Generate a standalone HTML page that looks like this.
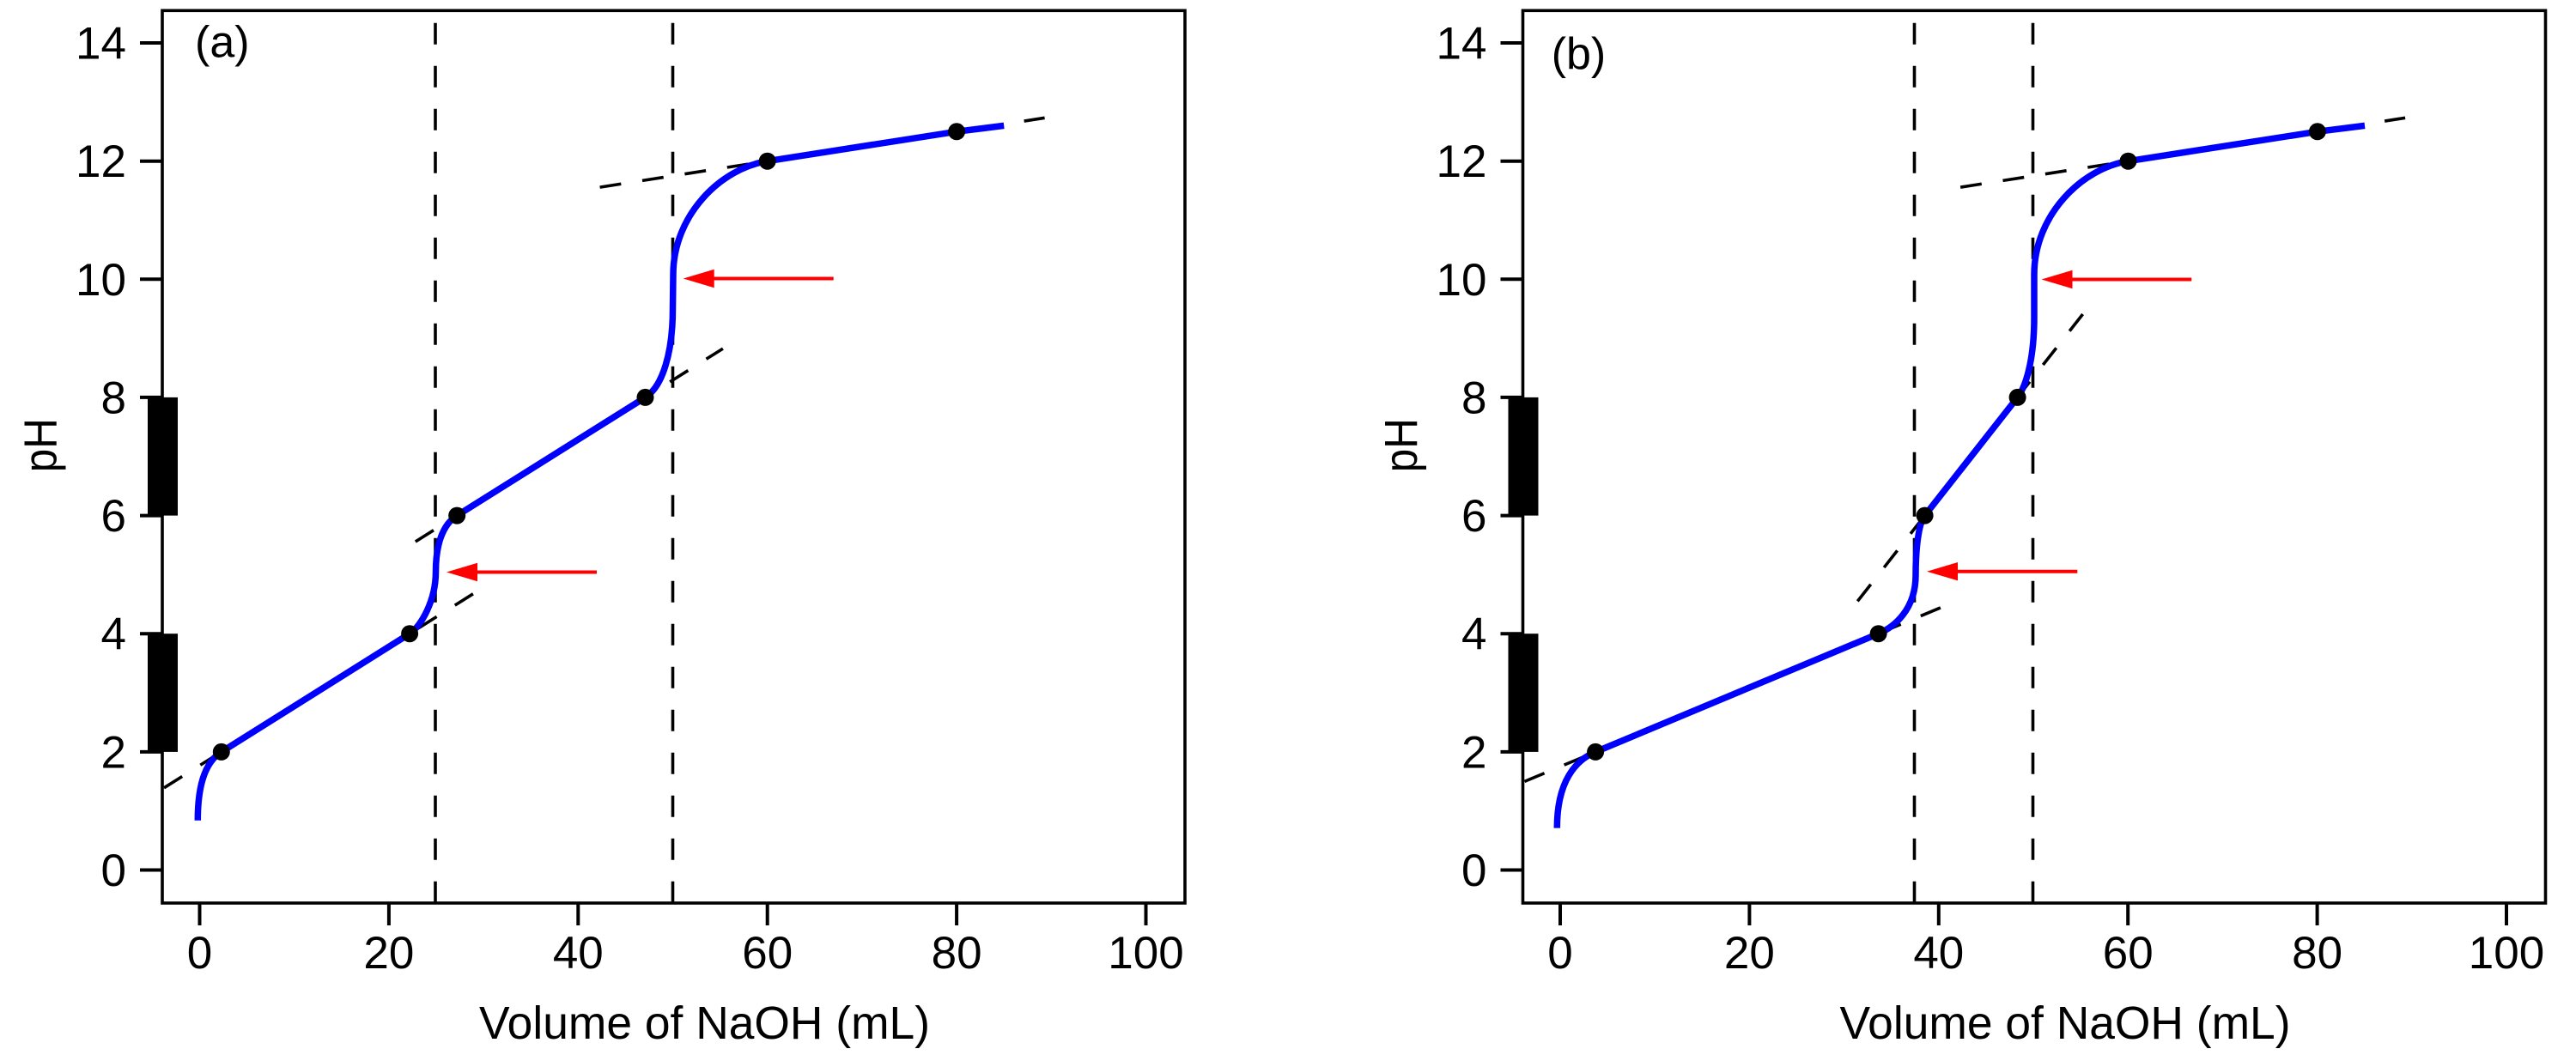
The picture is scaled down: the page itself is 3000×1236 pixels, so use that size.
<!DOCTYPE html>
<html><head><meta charset="utf-8"><style>
html,body{margin:0;padding:0;background:#fff;}
svg{display:block;}
text{font-family:"Liberation Sans",Arial,sans-serif;fill:#000;}
</style></head><body>
<svg width="3000" height="1236" viewBox="0 0 3000 1236" xmlns="http://www.w3.org/2000/svg">
<rect width="3000" height="1236" fill="#fff"/>
<defs>
<g id="frame">
  <!-- vertical/tangent placeholders not included -->
  <rect x="189" y="12.3" width="1191" height="1039.7" fill="none" stroke="#000" stroke-width="3.6"/>
  <g stroke="#000" stroke-width="4">
    <line x1="163" y1="50.0" x2="189" y2="50.0"/>
    <line x1="163" y1="187.7" x2="189" y2="187.7"/>
    <line x1="163" y1="325.3" x2="189" y2="325.3"/>
    <line x1="163" y1="462.9" x2="189" y2="462.9"/>
    <line x1="163" y1="600.6" x2="189" y2="600.6"/>
    <line x1="163" y1="738.2" x2="189" y2="738.2"/>
    <line x1="163" y1="875.9" x2="189" y2="875.9"/>
    <line x1="163" y1="1013.5" x2="189" y2="1013.5"/>
    <line x1="232.5" y1="1052" x2="232.5" y2="1078"/>
    <line x1="452.9" y1="1052" x2="452.9" y2="1078"/>
    <line x1="673.3" y1="1052" x2="673.3" y2="1078"/>
    <line x1="893.7" y1="1052" x2="893.7" y2="1078"/>
    <line x1="1114.1" y1="1052" x2="1114.1" y2="1078"/>
    <line x1="1334.5" y1="1052" x2="1334.5" y2="1078"/>
  </g>
  <rect x="172" y="462.9" width="35" height="137.7" fill="#000"/>
  <rect x="172" y="738.2" width="35" height="137.7" fill="#000"/>
  <g font-size="53" text-anchor="end">
    <text x="147" y="68.5">14</text>
    <text x="147" y="206.2">12</text>
    <text x="147" y="343.8">10</text>
    <text x="147" y="481.4">8</text>
    <text x="147" y="619.1">6</text>
    <text x="147" y="756.7">4</text>
    <text x="147" y="894.4">2</text>
    <text x="147" y="1032">0</text>
  </g>
  <g font-size="53" text-anchor="middle">
    <text x="232.5" y="1128">0</text>
    <text x="452.9" y="1128">20</text>
    <text x="673.3" y="1128">40</text>
    <text x="893.7" y="1128">60</text>
    <text x="1114.1" y="1128">80</text>
    <text x="1334.5" y="1128">100</text>
  </g>
  <text x="820.5" y="1210" font-size="54" text-anchor="middle" textLength="525" lengthAdjust="spacingAndGlyphs">Volume of NaOH (mL)</text>
  <text transform="translate(65.7,518.7) rotate(-90)" font-size="54" text-anchor="middle" textLength="63" lengthAdjust="spacingAndGlyphs">pH</text>
</g>
</defs>

<!-- Panel A -->
<use href="#frame"/>
<text x="227" y="66.5" font-size="52">(a)</text>
<g stroke="#000" stroke-width="3.6" stroke-dasharray="25 25" fill="none">
  <line x1="507" y1="26.7" x2="507" y2="1052"/>
  <line x1="783.5" y1="26.7" x2="783.5" y2="1052"/>
  <line x1="191" y1="917.8" x2="554.3" y2="689.7"/>
  <line x1="483.8" y1="631" x2="841.9" y2="406.1"/>
  <line x1="698.6" y1="218.1" x2="1216.6" y2="137.3"/>
</g>
<path d="M230.3,955.7 C230.3,910 240.9,886.5 257.8,875.9 L477.1,738.2 C490,730 507.5,700 507.5,666 C507.5,635 515.3,611.2 532.2,600.6 L751.5,462.9 C772,450 783.5,410 783.5,360 L784,320 C784,250 840,196 893.7,187.7 L1114.1,153.3 L1169.2,146.4" fill="none" stroke="#0000ff" stroke-width="7.5"/>
<g fill="#000">
  <circle cx="257.8" cy="875.9" r="10"/>
  <circle cx="477.1" cy="738.2" r="10"/>
  <circle cx="532.2" cy="600.6" r="10"/>
  <circle cx="751.5" cy="462.9" r="10"/>
  <circle cx="893.7" cy="187.7" r="10"/>
  <circle cx="1114.1" cy="153.3" r="10"/>
</g>
<g stroke="#ff0000" stroke-width="4">
  <line x1="550" y1="666.5" x2="695" y2="666.5"/>
  <line x1="825" y1="324.5" x2="970.7" y2="324.5"/>
</g>
<g fill="#ff0000">
  <polygon points="520,666.5 556,655.8 556,677.2"/>
  <polygon points="795.7,324.5 831.7,313.8 831.7,335.2"/>
</g>

<!-- Panel B -->
<use href="#frame" transform="translate(1584.5,0)"/>
<text x="1806.7" y="80" font-size="52">(b)</text>
<g stroke="#000" stroke-width="3.6" stroke-dasharray="25 25" fill="none">
  <line x1="2229.5" y1="26.7" x2="2229.5" y2="1052"/>
  <line x1="2367.5" y1="26.7" x2="2367.5" y2="1052"/>
  <line x1="1775.5" y1="910.4" x2="2263.6" y2="706.4"/>
  <line x1="2163.3" y1="700.4" x2="2426.7" y2="364.6"/>
  <line x1="2283.1" y1="218.1" x2="2801.1" y2="137.3"/>
</g>
<path d="M1813.3,964.6 C1813.3,910 1835,885.5 1858.1,875.9 L2187.6,738.2 C2206,730.5 2231,710 2231,670 C2231,640 2234.2,610 2241.6,600.6 L2349.6,462.9 C2358.9,451.1 2369,420 2369,370 L2369,320 C2369,250 2425,196 2478.5,187.7 L2698.9,153.3 L2754,146.4" fill="none" stroke="#0000ff" stroke-width="7.5"/>
<g fill="#000">
  <circle cx="1858.1" cy="875.9" r="10"/>
  <circle cx="2187.6" cy="738.2" r="10"/>
  <circle cx="2241.6" cy="600.6" r="10"/>
  <circle cx="2349.6" cy="462.9" r="10"/>
  <circle cx="2478.5" cy="187.7" r="10"/>
  <circle cx="2698.9" cy="153.3" r="10"/>
</g>
<g stroke="#ff0000" stroke-width="4">
  <line x1="2274" y1="665.7" x2="2419.3" y2="665.7"/>
  <line x1="2407" y1="325.5" x2="2552.3" y2="325.5"/>
</g>
<g fill="#ff0000">
  <polygon points="2244,665.7 2280,655 2280,676.4"/>
  <polygon points="2377.5,325.5 2413.5,314.8 2413.5,336.2"/>
</g>
</svg>
</body></html>
